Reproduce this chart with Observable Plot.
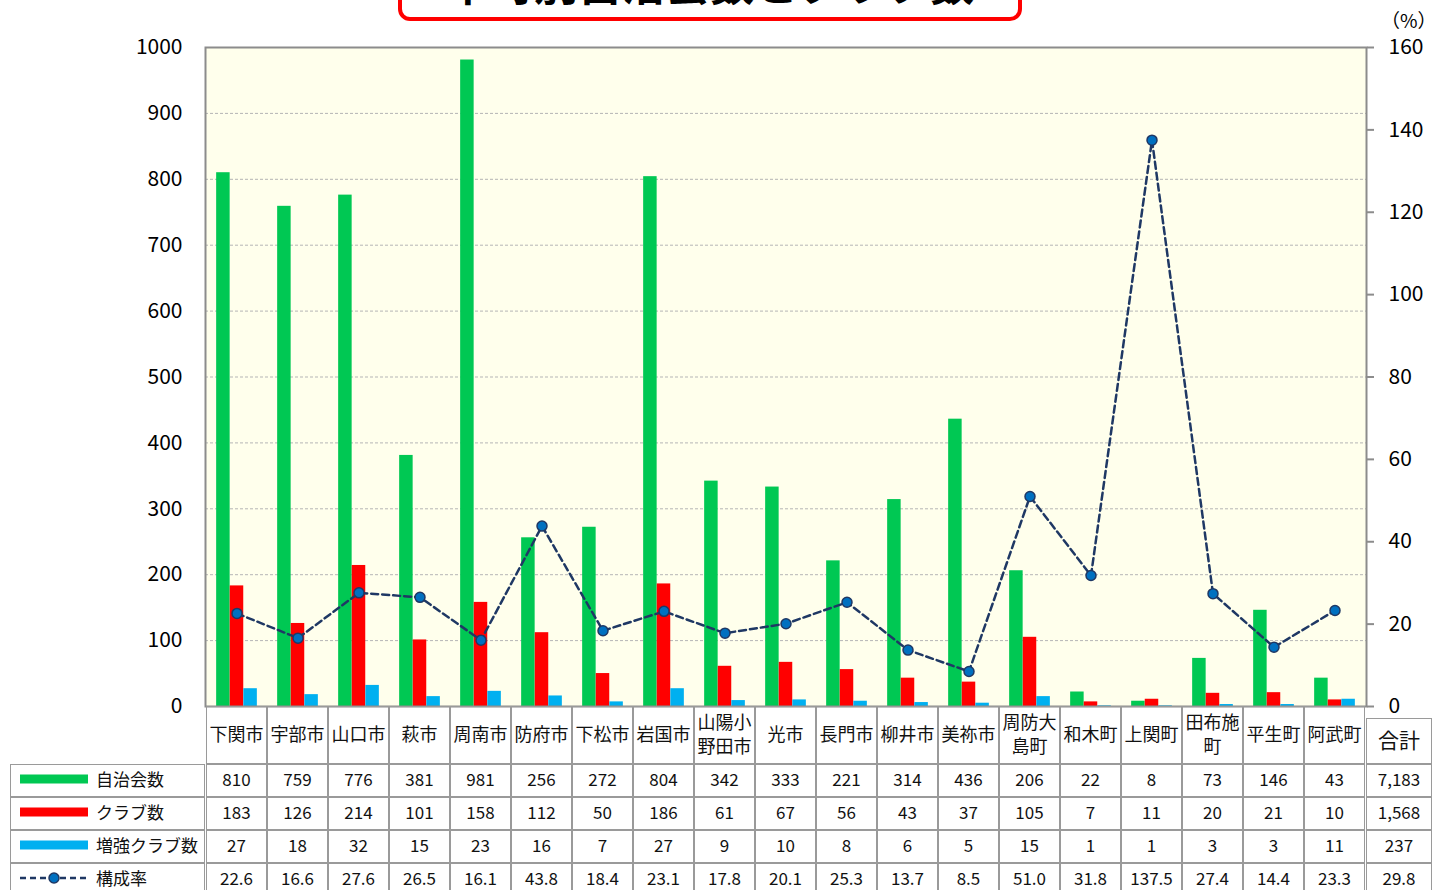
<!DOCTYPE html>
<html><head><meta charset="utf-8">
<script src="https://cdn.jsdelivr.net/npm/d3@7"></script>
<script src="https://cdn.jsdelivr.net/npm/@observablehq/plot@0.6"></script>
<style>
body{margin:0;background:#fff;font-family:"Noto Sans CJK JP",sans-serif;}
#wrap{position:relative;width:1441px;height:890px;overflow:hidden;background:#fff;}
#wrap > svg{position:absolute;left:0;top:0;}
.cell{position:absolute;box-sizing:border-box;border:1px solid #9a9a9a;display:flex;align-items:center;justify-content:center;text-align:center;font-size:17px;color:#111;line-height:24px;padding-bottom:3px;}
.hdr{font-size:18px;padding-bottom:4px;}
.lab{justify-content:flex-start;font-size:17px;white-space:nowrap;}
#tbox{position:absolute;left:398px;top:-40px;width:624px;height:61px;box-sizing:border-box;border:4px solid #FF0000;border-radius:12px;background:#fff;}
#ttext{position:absolute;left:398px;width:624px;top:-40px;text-align:center;font-size:44px;line-height:44px;font-weight:bold;color:#000;white-space:nowrap;}
#pct{position:absolute;left:1381px;top:6px;font-size:19px;color:#000;}
</style></head><body><div id="wrap"></div>
<script>
const categories = ["下関市","宇部市","山口市","萩市","周南市","防府市","下松市","岩国市","山陽小野田市","光市","長門市","柳井市","美祢市","周防大島町","和木町","上関町","田布施町","平生町","阿武町"];
const jichikai = [810,759,776,381,981,256,272,804,342,333,221,314,436,206,22,8,73,146,43];
const club = [183,126,214,101,158,112,50,186,61,67,56,43,37,105,7,11,20,21,10];
const zokyo = [27,18,32,15,23,16,7,27,9,10,8,6,5,15,1,1,3,3,11];
const rate = [22.6,16.6,27.6,26.5,16.1,43.8,18.4,23.1,17.8,20.1,25.3,13.7,8.5,51.0,31.8,137.5,27.4,14.4,23.3];
const totals = ["7,183","1,568","237","29.8"];
const seriesNames = ["自治会数","クラブ数","増強クラブ数","構成率"];
const totalLabel = "合計";
const colors = ["#00C853","#FF0000","#00B0F0","#1F3864"];
const markerFill = "#0070C0";
const leftTicks = d3.range(0,1001,100);
const rightTicks = d3.range(0,161,20);
const titleText = "市町別自治会数とクラブ数";
const unitText = "（%）";

const K = 1000/160;
const rows = categories.map((c,i)=>({c, j:jichikai[i], k:club[i], z:zokyo[i], r:rate[i]}));
const W = 1441, mL = 205, mR = 75;
const step = (W-mL-mR)/categories.length;
const bw = 13.6;
const inset = (step-bw)/2;

const chart = Plot.plot({
  width: W, height: 708, marginLeft: mL, marginRight: mR, marginTop: 47, marginBottom: 2,
  x: {type:"band", domain: categories, padding: 0, axis: null},
  y: {domain: [0,1000], axis: null},
  style: {fontFamily: '"Noto Sans CJK JP", sans-serif', fontSize: "21px", color: "#000", background: "transparent", overflow: "visible"},
  marks: [
    Plot.frame({fill: "#FFFFEC", stroke: null}),
    Plot.gridY(d3.range(100,1000,100), {stroke: "#b5b5b5", strokeOpacity: 1, strokeDasharray: "3,2"}),
    Plot.barY(rows, {x:"c", y:"j", fill: colors[0], insetLeft: inset, insetRight: inset, dx: -bw}),
    Plot.barY(rows, {x:"c", y:"k", fill: colors[1], insetLeft: inset, insetRight: inset}),
    Plot.barY(rows, {x:"c", y:"z", fill: colors[2], insetLeft: inset, insetRight: inset, dx: bw}),
    Plot.line(rows, {x:"c", y: d=>d.r*K, stroke: colors[3], strokeWidth: 2.5, strokeDasharray: "7,4"}),
    Plot.dot(rows, {x:"c", y: d=>d.r*K, r: 5, fill: markerFill, stroke: colors[3], strokeWidth: 1.5}),
    Plot.frame({stroke: "#8c8c8c", strokeWidth: 2}),
    Plot.axisY(leftTicks, {anchor: "left", tickSize: 0, tickPadding: 23, label: null, fontSize: 21, tickFormat: d=>String(d)}),
    Plot.axisY(rightTicks.map(v=>v*K), {anchor: "right", tickSize: 7, tickPadding: 15, stroke: "#8c8c8c", strokeWidth: 2, tickFormat: d=>String(Math.round(d/K)), label: null, fontSize: 21})
  ]
});
const wrap = document.getElementById("wrap");
wrap.appendChild(chart);

// title (cut off at the top as in the reference)
const tb = document.createElement("div"); tb.id = "tbox"; wrap.appendChild(tb);
const tt = document.createElement("div"); tt.id = "ttext"; tt.textContent = titleText; wrap.appendChild(tt);
const pc = document.createElement("div"); pc.id = "pct"; pc.textContent = unitText; wrap.appendChild(pc);

// data table below the chart
const sx = chart.scale("x");
function cell(x,y,w,h,html,cls){
  const d = document.createElement("div");
  d.className = "cell" + (cls ? " "+cls : "");
  d.style.left = x+"px"; d.style.top = y+"px"; d.style.width = w+"px"; d.style.height = h+"px";
  d.innerHTML = html; wrap.appendChild(d); return d;
}
const rowY = [764, 797, 830, 863];
const rowH = 33;
const colData = [jichikai, club, zokyo, rate.map(v=>v.toFixed(1))];
categories.forEach((c,i)=>{
  const x = sx.apply(c);
  const w = sx.bandwidth;
  const hd = cell(x, 706, w, 58, "", "hdr");
  hd.textContent = c;
  colData.forEach((arr,r)=>{
    cell(x, rowY[r], w, rowH, String(arr[i]));
  });
});
// total column
const tc = cell(1366, 718, 66, 46, "", "hdr"); tc.textContent = totalLabel; tc.style.fontSize = "21px";
totals.forEach((t,r)=>{ cell(1366, rowY[r], 66, rowH, t); });
// legend/label column
seriesNames.forEach((n,r)=>{
  let sample;
  if (r < 3) sample = `<svg width="68" height="10" style="flex:none;margin-right:8px"><rect x="0" y="0.5" width="68" height="9" fill="${colors[r]}"/></svg>`;
  else sample = `<svg width="68" height="12" style="flex:none;margin-right:8px"><line x1="0" x2="68" y1="6" y2="6" stroke="${colors[3]}" stroke-width="2.5" stroke-dasharray="6,4"/><circle cx="34" cy="6" r="5" fill="${markerFill}" stroke="${colors[3]}" stroke-width="1.5"/></svg>`;
  const d = cell(10, rowY[r], 195, rowH, sample + `<span>${n}</span>`, "lab");
  d.style.paddingLeft = "9px";
});
</script>
</body></html>
